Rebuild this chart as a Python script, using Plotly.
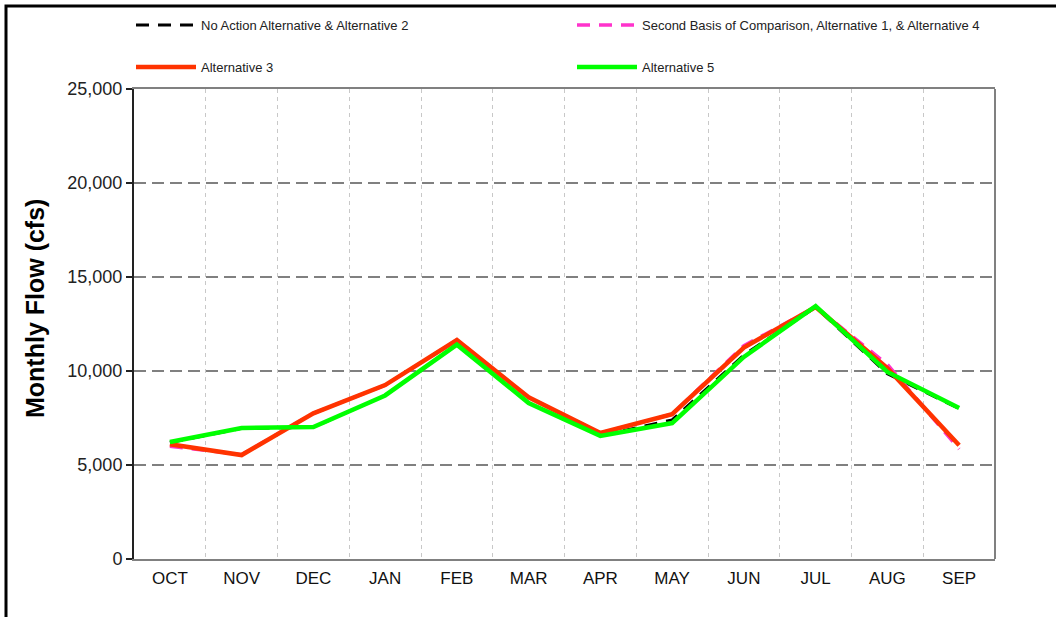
import plotly.graph_objects as go

months = ["OCT", "NOV", "DEC", "JAN", "FEB", "MAR", "APR", "MAY", "JUN", "JUL", "AUG", "SEP"]
no_action = [6200, 6950, 7000, 8700, 11400, 8300, 6550, 7400, 10850, 13400, 9850, 8000]
second_basis = [6000, 5550, 7750, 9250, 11650, 8600, 6700, 7700, 11350, 13400, 10350, 5850]
alt3 = [6100, 5530, 7750, 9250, 11650, 8600, 6700, 7700, 11250, 13400, 10150, 6050]
alt5 = [6220, 6970, 7020, 8700, 11400, 8300, 6550, 7230, 10750, 13450, 9950, 8030]
yticks = [0, 5000, 10000, 15000, 20000, 25000]
y_title = "Monthly Flow (cfs)"

xs = list(range(len(months)))

fig = go.Figure()
fig.add_trace(go.Scatter(x=xs, y=no_action, mode="lines", name="No Action Alternative & Alternative 2",
                         line=dict(color="black", width=3, dash="13px,9px"), legend="legend"))
fig.add_trace(go.Scatter(x=xs, y=second_basis, mode="lines", name="Second Basis of Comparison, Alternative 1, & Alternative 4",
                         line=dict(color="#ff33cc", width=3.5, dash="13px,9px"), legend="legend2"))
fig.add_trace(go.Scatter(x=xs, y=alt3, mode="lines", name="Alternative 3",
                         line=dict(color="#ff3300", width=4.5), legend="legend3"))
fig.add_trace(go.Scatter(x=xs, y=alt5, mode="lines", name="Alternative 5",
                         line=dict(color="#00ff00", width=4.5), legend="legend4"))

L, R, T, B = 134, 61, 89, 58
W, H = 1056, 617
pw, ph = W - L - R, H - T - B

def px(x):
    return (x - L) / pw

def py(y):
    return (H - B - y) / ph

leg_common = dict(bgcolor="rgba(0,0,0,0)", font=dict(family="Liberation Sans, Arial", size=13, color="#222"),
                  xanchor="left", yanchor="middle", itemwidth=60)
fig.update_layout(
    width=W, height=H,
    margin=dict(l=L, r=R, t=T, b=B, autoexpand=False),
    paper_bgcolor="white", plot_bgcolor="white",
    showlegend=True,
    legend=dict(x=px(131), y=py(25), **leg_common),
    legend2=dict(x=px(572), y=py(25), **leg_common),
    legend3=dict(x=px(131), y=py(67), **leg_common),
    legend4=dict(x=px(572), y=py(67), **leg_common),
    xaxis=dict(
        range=[-0.5, 11.5], tickmode="array", tickvals=xs, ticktext=months,
        showgrid=False, zeroline=False,
        showline=True, linecolor="#808080", linewidth=2, mirror=True,
        ticks="", ticklabelstandoff=3,
        tickfont=dict(family="Liberation Sans Narrow, Liberation Sans, Arial", size=17, color="#111"),
        minor=dict(tickmode="array", tickvals=[i + 0.5 for i in xs[:-1]], showgrid=True,
                   gridcolor="#c8c8c8", griddash="4px,4px", gridwidth=1, ticks=""),
    ),
    yaxis=dict(
        range=[0, 25000], tickmode="array", tickvals=yticks, tickformat=",d",
        showgrid=True, gridcolor="#808080", griddash="12px,6px", gridwidth=2,
        zeroline=False, showline=True, linecolor="#222", linewidth=2,
        ticks="outside", ticklen=6, tickcolor="#222", tickwidth=1.5,
        tickfont=dict(family="Liberation Sans, Arial", size=18, color="#222"),
    ),
    annotations=[
        dict(text="<b>" + y_title + "</b>", xref="paper", yref="paper", x=px(35), y=py(309),
             xanchor="center", yanchor="middle", textangle=-90, showarrow=False,
             font=dict(family="Liberation Sans, Arial", size=25, color="black")),
    ],
    shapes=[
        dict(type="line", xref="paper", yref="paper", x0=1, x1=1, y0=0, y1=1,
             line=dict(color="#808080", width=2)),
        dict(type="rect", xref="paper", yref="paper", x0=px(6), x1=px(1070), y0=py(640), y1=py(6),
             line=dict(color="black", width=3), fillcolor="rgba(0,0,0,0)", layer="above"),
    ],
)

fig.write_html("out.html", config={"displayModeBar": False},
               post_script="document.body.style.margin='0';document.body.style.padding='0';")
